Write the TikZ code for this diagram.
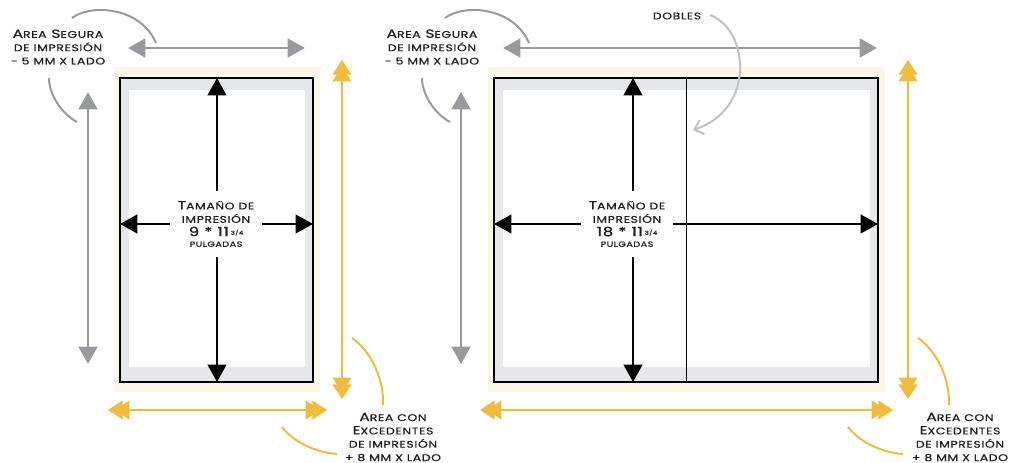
\documentclass[tikz,border=0pt]{standalone}
\usepackage{fontspec}
\setmainfont{Poppins}[FakeStretch=1.3,LetterSpace=6,FakeBold=0.8]
\usetikzlibrary{arrows.meta}

\definecolor{crema}{RGB}{251,246,230}
\definecolor{margen}{RGB}{230,231,232}
\definecolor{grisflecha}{RGB}{153,154,158}
\definecolor{grisclaro}{RGB}{194,194,196}
\definecolor{amarillo}{RGB}{240,188,60}
\definecolor{tinta}{RGB}{35,31,32}

\newcommand\smc[1]{{\fontsize{7.2}{10}\selectfont #1}}

\tikzset{
  every picture/.style={line width=0.75pt},
  flechanegra/.style={draw=black, line width=1.5pt, {Triangle[length=13pt,width=14pt]}-{Triangle[length=13pt,width=14pt]}},
  flechagris/.style={draw=grisflecha, line width=2pt, {Triangle[length=13pt,width=14pt]}-{Triangle[length=13pt,width=14pt]}},
  flechaamarilla/.style={draw=amarillo, line width=1.5pt,
    {Triangle[length=11pt,width=14pt,sep=-6pt]Triangle[length=11pt,width=14pt,sep=-6pt]}-{Triangle[length=11pt,width=14pt,sep=-6pt]Triangle[length=11pt,width=14pt,sep=-6pt]}},
  curvagris/.style={draw=grisflecha, line width=1.5pt},
  curvaamarilla/.style={draw=amarillo, line width=1.5pt},
  etiqueta/.style={text=tinta, align=center, inner sep=0.75pt, font=\fontsize{8.9}{10}\selectfont},
  medida/.style={etiqueta, fill=white, minimum width=69pt, minimum height=49.5pt, inner sep=0pt},
}

\begin{document}
\begin{tikzpicture}[x=0.75pt,y=0.75pt,yscale=-1,xscale=1]
\useasboundingbox (0,0) rectangle (1014,463);

%Shape: Rectangle [id:hoja simple]
\fill[crema] (114,67) rectangle (320,392);
\draw[fill=margen, line width=1pt] (120,78) rectangle (313,382);
\fill[white] (129,90) rectangle (305,367);
%Shape: Rectangle [id:hoja doble]
\fill[crema] (488,67) rectangle (885,392);
\draw[fill=margen, line width=1pt] (494,78) rectangle (878,382);
\fill[white] (503,90) rectangle (870,367);

% coordinates
\coordinate (sArriba) at (217,78);
\coordinate (sAbajo) at (217,382);
\coordinate (sIzq) at (120,224);
\coordinate (sDer) at (313,224);
\coordinate (dArriba) at (633,78);
\coordinate (dAbajo) at (633,382);
\coordinate (dIzq) at (494,224);
\coordinate (dDer) at (878,224);
\coordinate (dPliegueA) at (686,78);
\coordinate (dPliegueB) at (686,382);

\coordinate (sgH1) at (128,48);
\coordinate (sgH2) at (305,48);
\coordinate (sgV1) at (88,92);
\coordinate (sgV2) at (88,364);
\coordinate (dgH1) at (503,48);
\coordinate (dgH2) at (877,48);
\coordinate (dgV1) at (461,92);
\coordinate (dgV2) at (461,364);

\coordinate (saV1) at (342,68);
\coordinate (saV2) at (342,391);
\coordinate (saH1) at (116,410);
\coordinate (saH2) at (319,410);
\coordinate (daV1) at (908,68);
\coordinate (daV2) at (908,391);
\coordinate (daH1) at (488,410);
\coordinate (daH2) at (885,410);

%Straight Lines [id:pliegue]
\draw (dPliegueA) -- (dPliegueB);

%Straight Lines [id:medidas]
\draw[flechanegra] (sArriba) -- (sAbajo);
\draw[flechanegra] (sIzq) -- (sDer);
\draw[flechanegra] (dArriba) -- (dAbajo);
\draw[flechanegra] (dIzq) -- (dDer);

%Straight Lines [id:area segura]
\draw[flechagris] (sgH1) -- (sgH2);
\draw[flechagris] (sgV1) -- (sgV2);
\draw[flechagris] (dgH1) -- (dgH2);
\draw[flechagris] (dgV1) -- (dgV2);

%Straight Lines [id:excedentes]
\draw[flechaamarilla] (saV1) -- (saV2);
\draw[flechaamarilla] (saH1) -- (saH2);
\draw[flechaamarilla] (daV1) -- (daV2);
\draw[flechaamarilla] (daH1) -- (daH2);

%Curve Lines [id:area segura]
\draw[curvagris] (72,18) .. controls (90,4) and (140,6) .. (156,43) ;
\draw[curvagris] (49,78) .. controls (49,95) and (62,114) .. (77,122) ;
\draw[curvagris] (445,18) .. controls (463,4) and (513,6) .. (529,43) ;
\draw[curvagris] (422,78) .. controls (422,95) and (435,114) .. (450,122) ;

%Curve Lines [id:excedentes]
\draw[curvaamarilla] (352,338) .. controls (372,352) and (384,380) .. (383,405) ;
\draw[curvaamarilla] (282,427) .. controls (292,440) and (312,452) .. (337,454) ;
\draw[curvaamarilla] (918,338) .. controls (938,352) and (950,380) .. (949,405) ;
\draw[curvaamarilla] (848,427) .. controls (858,440) and (878,452) .. (903,454) ;

%Curve Lines [id:dobles]
\draw[draw=grisclaro, line width=1.5pt, -{Straight Barb[length=6pt,width=11pt]}] (710,15) .. controls (750,30) and (755,110) .. (693,130) ;

% Text Node
\node[medida] (sTam) at (216,224) {T\smc{AMAÑO DE}\\\smc{IMPRESIÓN}\\{\fontsize{9.5}{11}\selectfont 9 * 11}\,\raisebox{1pt}{\fontsize{4}{4}\selectfont 3/4}\\[-2pt]{\fontsize{5.6}{7}\selectfont PULGADAS}};
% Text Node
\node[medida] (dTam) at (627,224) {T\smc{AMAÑO DE}\\\smc{IMPRESIÓN}\\{\fontsize{9.5}{11}\selectfont 18 * 11}\,\raisebox{1pt}{\fontsize{4}{4}\selectfont 3/4}\\[-2pt]{\fontsize{5.6}{7}\selectfont PULGADAS}};
% Text Node
\node[etiqueta] (sSegura) at (58,47) {A\smc{REA} S\smc{EGURA}\\\smc{DE IMPRESIÓN}\\\smc{- 5 MM X LADO}};
% Text Node
\node[etiqueta] (dSegura) at (432,47) {A\smc{REA} S\smc{EGURA}\\\smc{DE IMPRESIÓN}\\\smc{- 5 MM X LADO}};
% Text Node
\node[etiqueta] (sExced) at (393,437) {A\smc{REA CON}\\E\smc{XCEDENTES}\\\smc{DE IMPRESIÓN}\\\smc{+ 8 MM X LADO}};
% Text Node
\node[etiqueta] (dExced) at (960,437) {A\smc{REA CON}\\E\smc{XCEDENTES}\\\smc{DE IMPRESIÓN}\\\smc{+ 8 MM X LADO}};
% Text Node
\node[etiqueta] (dobles) at (677,16) {\smc{DOBLES}};

\end{tikzpicture}
\end{document}
